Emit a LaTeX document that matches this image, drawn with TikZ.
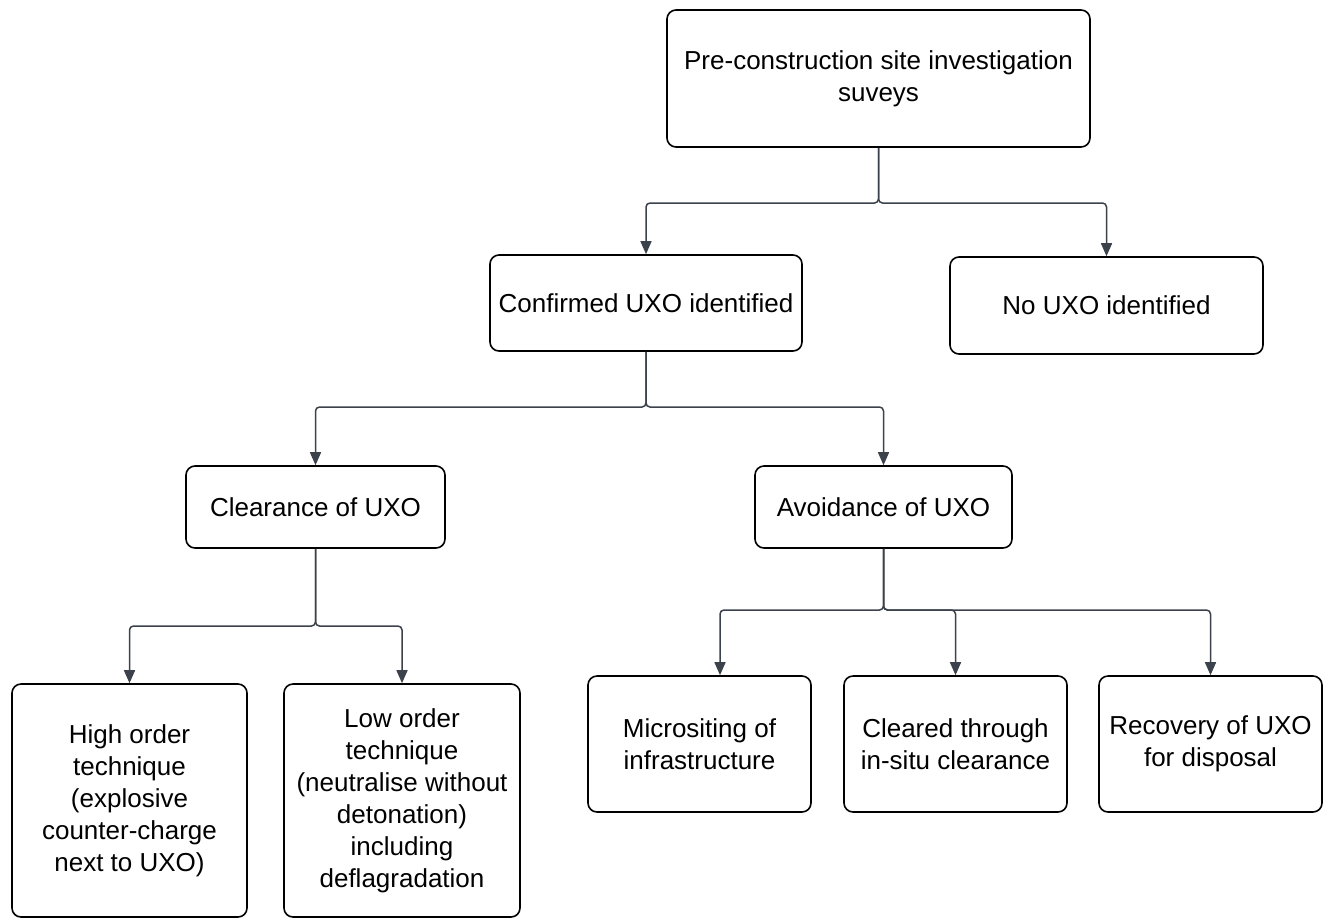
\documentclass[tikz,border=0pt]{standalone}
\usepackage{fontspec}
\setmainfont{Liberation Sans}
\usetikzlibrary{arrows.meta}
\definecolor{linec}{HTML}{3B424C}
\begin{document}
\begin{tikzpicture}[x=1pt,y=-1pt,
  box/.style={draw=black, rounded corners=9pt, line width=1.6pt, align=center,
    inner sep=0pt, font=\fontsize{26}{32}\selectfont},
  conn/.style={draw=linec, line width=1.5pt, rounded corners=4pt,
    -{Triangle[width=11pt,length=13pt]}}]
\useasboundingbox[fill=white] (0,0) rectangle (1324,919);

\node[box, minimum width=423pt, minimum height=137pt] (top) at (878.5,78.5)
  {Pre-construction site investigation\\suveys};
\node[box, minimum width=312pt, minimum height=96pt] (conf) at (646,303)
  {Confirmed UXO identified};
\node[box, minimum width=313pt, minimum height=97pt] (none) at (1106.5,305.5)
  {No UXO identified};
\node[box, minimum width=259pt, minimum height=82pt] (clear) at (315.5,507)
  {Clearance of UXO};
\node[box, minimum width=257pt, minimum height=82pt] (avoid) at (883.5,507)
  {Avoidance of UXO};
\node[box, minimum width=235pt, minimum height=233pt] (high) at (129.5,800.5)
  {High order\\technique\\(explosive\\counter-charge\\next to UXO)};
\node[box, minimum width=236pt, minimum height=233pt] (low) at (402,800.5)
  {Low order\\technique\\(neutralise without\\detonation)\\including\\deflagradation};
\node[box, minimum width=223pt, minimum height=136pt] (micro) at (699.5,744)
  {Micrositing of\\infrastructure};
\node[box, minimum width=223pt, minimum height=136pt] (cleared) at (955.5,744)
  {Cleared through\\in-situ clearance};
\node[box, minimum width=223pt, minimum height=136pt] (recov) at (1210.5,744)
  {Recovery of UXO\\for disposal};

\draw[conn] (top.south) -- (top.south |- 0,203) -| (conf.north);
\draw[conn] (top.south) -- (top.south |- 0,203) -| (none.north);
\draw[conn] (conf.south) -- (conf.south |- 0,407) -| (clear.north);
\draw[conn] (conf.south) -- (conf.south |- 0,407) -| (avoid.north);
\draw[conn] (clear.south) -- (clear.south |- 0,626) -| (high.north);
\draw[conn] (clear.south) -- (clear.south |- 0,626) -| (low.north);
\draw[conn] (avoid.south) -- (avoid.south |- 0,610) -| (micro.north -| 720,0);
\draw[conn] (avoid.south) -- (avoid.south |- 0,610) -| (cleared.north);
\draw[conn] (avoid.south) -- (avoid.south |- 0,610) -| (recov.north);
\end{tikzpicture}
\end{document}
